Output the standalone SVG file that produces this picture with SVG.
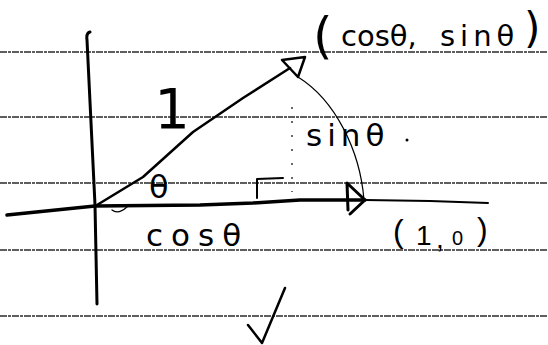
<svg xmlns="http://www.w3.org/2000/svg" width="548" height="345" viewBox="0 0 548 345">
<style>
.rule{stroke:#2a2a2a;stroke-width:1.3;stroke-dasharray:7 1 3 1;fill:none}
.ink{stroke:#000;fill:none;stroke-linecap:round;stroke-linejoin:round}
.hw{font-family:"DejaVu Sans","Liberation Sans",sans-serif;fill:#000}
.hl{font-family:"Liberation Sans","DejaVu Sans",sans-serif;fill:#000}
</style>
<rect width="548" height="345" fill="#fff"/>
<g id="paper-lines">
<line class="rule" x1="0" y1="52" x2="548" y2="52"/>
<line class="rule" x1="0" y1="117" x2="548" y2="117"/>
<line class="rule" x1="0" y1="183" x2="548" y2="183"/>
<line class="rule" x1="0" y1="250" x2="548" y2="250"/>
<line class="rule" x1="0" y1="316" x2="548" y2="316"/>
</g>
<g id="connectors">
<path id="y-axis" class="ink" stroke-width="3" d="M90,32 Q86,33 87,40 L95,205 L97,304"/>
<path id="x-axis" class="ink" stroke-width="3.5" d="M7,215 L95,206 L200,205 L253,203 L300,200 L365,200"/>
<path id="x-axis-ext" class="ink" stroke="#222" stroke-width="2" d="M365,200 L430,201 L488,203"/>
<path id="x-arrow" class="ink" stroke-width="3" d="M348,210 L347,183 L365,200 L350,214"/>
<path id="radius" class="ink" stroke-width="2.5" d="M97,205 L143,177 L193,132 L243,98 L290,68"/>
<path id="r-arrow" class="ink" stroke-width="2.5" d="M282,60 L305,57 L298,77 Z"/>
<path id="arc" class="ink" stroke-width="1.2" d="M298,77 C335,100 360,150 364,200"/>
<path id="sin-line" stroke="#444" stroke-width="1.6" fill="none" stroke-dasharray="2 12" d="M292,107 L292,192"/>
<path id="right-angle" class="ink" stroke-width="2" d="M257,198 L257,179 L283,178"/>
<path id="angle-tick" class="ink" stroke-width="1.2" d="M112,210 Q118,215 127,207"/>
</g>
<g id="label-point">
<text class="hw" font-size="29"><tspan x="313" y="53" font-size="50">(</tspan><tspan x="341" y="46">cosθ,</tspan><tspan x="440" y="46" letter-spacing="5">sinθ</tspan><tspan x="524" y="43" font-size="42">)</tspan></text>
</g>
<g id="label-one"><text class="hw" x="172" y="128" font-size="56" text-anchor="middle">1</text></g>
<g id="label-theta"><text class="hw" x="149" y="198" font-size="32">θ</text></g>
<g id="label-sin"><text class="hw" x="306" y="146" font-size="31" letter-spacing="5">sinθ</text><circle cx="407" cy="140" r="1.5" fill="#000"/></g>
<g id="label-cos"><text class="hw" x="146" y="246" font-size="31" letter-spacing="8">cosθ</text></g>
<g id="label-10">
<text class="hl" font-size="32"><tspan x="393" y="242">(</tspan><tspan x="416" y="245" font-size="28">1</tspan><tspan x="436" y="248" font-size="28">,</tspan><tspan x="452" y="245" font-size="20">0</tspan><tspan x="477" y="240">)</tspan></text>
</g>
<g id="checkmark"><path class="ink" stroke-width="2.5" d="M248,325 L262,343 L285,288"/></g>
</svg>
